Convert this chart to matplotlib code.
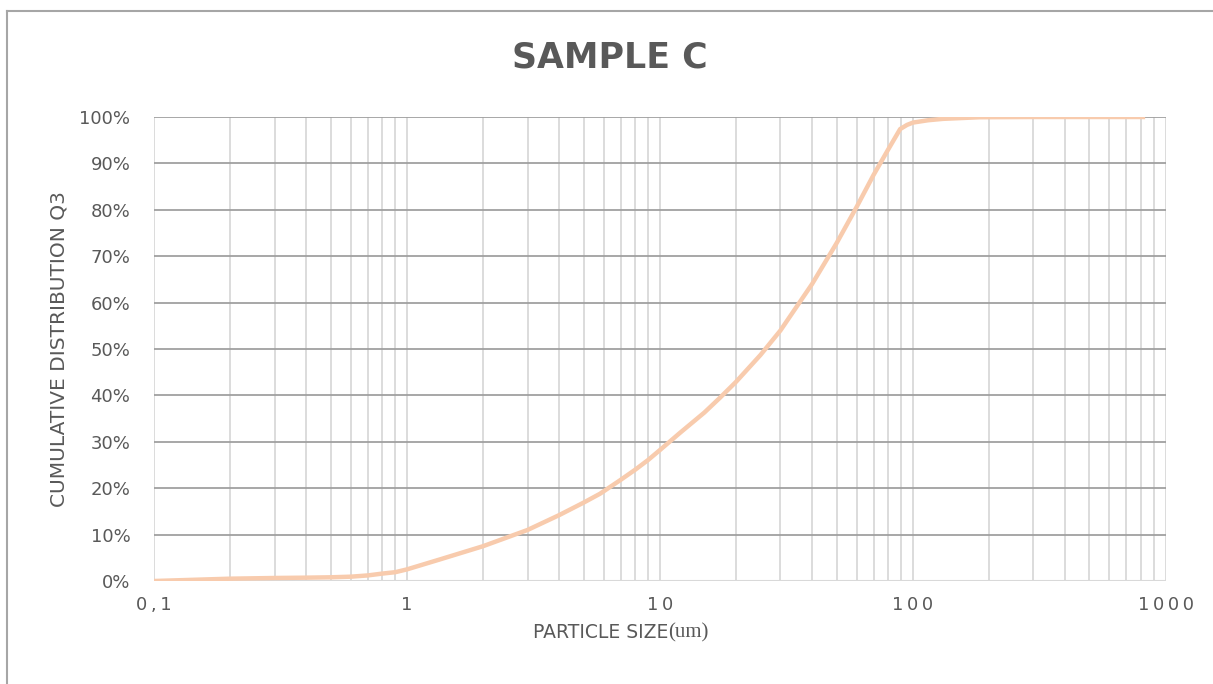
import numpy as np
import matplotlib
matplotlib.use("Agg")
import matplotlib.pyplot as plt
from matplotlib.lines import Line2D

# particle size (um) and cumulative distribution Q3 (%)
size_um = [0.1, 0.2, 0.3, 0.4, 0.5, 0.6, 0.7, 0.8, 0.9, 1, 1.36, 2, 3, 4, 5, 5.8, 6.96, 8, 9, 10,
           12, 15, 17.3, 20, 25, 30, 40, 50, 60, 70, 80, 89.2, 95, 100.3, 115, 131.8, 184.5, 300, 500, 830]
q3_pct = [0, 0.5, 0.65, 0.72, 0.8, 0.93, 1.2, 1.6, 1.9, 2.5, 4.7, 7.5, 11, 14.2, 16.9, 18.8, 21.7, 24.0, 26.1, 28.2,
          31.9, 36.3, 39.5, 42.9, 48.7, 54, 64, 72.8, 80.6, 87.5, 93, 97.4, 98.3, 98.8, 99.3, 99.6, 99.95, 100, 100, 100]

x_ticks = [0.1, 1, 10, 100, 1000]
x_ticklabels = ["0\u2009,\u20091", "1", "1\u20090", "1\u20090\u20090", "1\u20090\u20090\u20090"]
y_ticks = list(range(0, 101, 10))

txt = "#595959"
fig = plt.figure(figsize=(12.13, 6.84), dpi=100)
ax = fig.add_axes([154 / 1213, 1 - 581 / 684, (1165.6 - 154) / 1213, (581 - 117) / 684])

ax.set_xscale("log")
ax.set_xlim(0.1, 1000)
ax.set_ylim(0, 100)

# vertical grid (light), horizontal grid (darker)
minor = [m * 10.0 ** e for e in range(-1, 3) for m in range(2, 10)]
for v in minor + x_ticks:
    ax.axvline(v, color="#d9d9d9", lw=1.3, zorder=1)
for h in y_ticks[1:]:
    ax.axhline(h, color="#a0a0a0", lw=1.3, zorder=2)
ax.axhline(0, color="#d9d9d9", lw=1.5, zorder=2)

ax.plot(size_um, q3_pct, color="#F8CBAD", lw=3.2, zorder=3,
        solid_capstyle="butt", solid_joinstyle="round")

for s in ax.spines.values():
    s.set_visible(False)
ax.tick_params(length=0, colors=txt, labelsize=13)
ax.set_xticks(x_ticks)
ax.set_xticklabels(x_ticklabels)
ax.xaxis.set_minor_locator(matplotlib.ticker.NullLocator())
ax.set_yticks(y_ticks)
ax.set_yticklabels([f"{v}%" for v in y_ticks])
ax.tick_params(axis="x", pad=11)
ax.tick_params(axis="y", pad=17)

ax.set_ylabel("CUMULATIVE DISTRIBUTION Q3", color=txt, fontsize=14.5, labelpad=8)

# x label: sans part + serif "(um)"
t1 = fig.text(533 / 1213, 1 - 633 / 684, "PARTICLE SIZE", fontsize=13.5, color=txt,
              ha="left", va="center")
fig.canvas.draw()
bb = t1.get_window_extent()
fig.text(bb.x1 / 1213, 1 - 633 / 684, "(um)", fontsize=15, color=txt,
         family="Liberation Serif", ha="left", va="center")

fig.text(0.503, 1 - 58 / 684, "SAMPLE C", fontsize=25, fontweight="bold",
         color=txt, ha="center", va="center")

# outer chart frame (left and top edges visible)
fig.add_artist(Line2D([7 / 1213, 7 / 1213], [0, 1 - 11 / 684], color="#a6a6a6", lw=1.5))
fig.add_artist(Line2D([7 / 1213, 1], [1 - 11 / 684, 1 - 11 / 684], color="#a6a6a6", lw=1.5))

fig.savefig("out.png", dpi=100)
